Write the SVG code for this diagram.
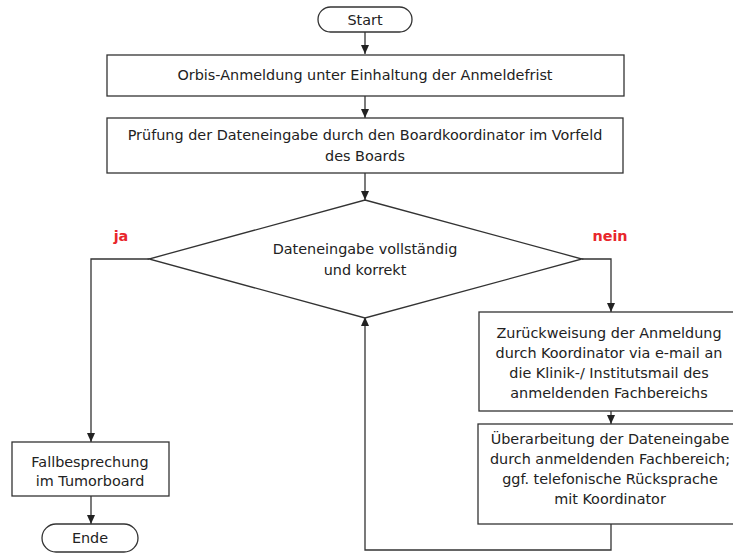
<svg xmlns="http://www.w3.org/2000/svg" width="733" height="554" viewBox="0 0 733 554">
<style>
.s{fill:#fff;stroke:#333;stroke-width:1.3}
.t{font-family:"DejaVu Sans",Verdana,sans-serif;font-size:14.4px;fill:#222;text-anchor:middle}
.r{font-family:"DejaVu Sans",Verdana,sans-serif;font-size:14.4px;font-weight:bold;fill:#e8262b;text-anchor:middle}
.c{fill:none;stroke:#333;stroke-width:1.3}
</style>
<defs>
<marker id="a" markerWidth="10" markerHeight="10" refX="9" refY="5" orient="auto" markerUnits="userSpaceOnUse">
<path d="M0,1 L9,5 L0,9 Z" fill="#222"/>
</marker>
</defs>
<g id="connectors">
<path class="c" d="M365,32 V54" marker-end="url(#a)"/>
<path class="c" d="M365,96 V118" marker-end="url(#a)"/>
<path class="c" d="M365,173 V200" marker-end="url(#a)"/>
<path class="c" d="M149,259 H91 V442" marker-end="url(#a)"/>
<path class="c" d="M582,259 H611 V312" marker-end="url(#a)"/>
<path class="c" d="M611,411 V424" marker-end="url(#a)"/>
<path class="c" d="M611,524 V550 H365 V317" marker-end="url(#a)"/>
<path class="c" d="M91,496 V524" marker-end="url(#a)"/>
<text class="r" x="121" y="241">ja</text>
<text class="r" x="610" y="241">nein</text>
</g>
<g id="start">
<rect class="s" x="318" y="7" width="94" height="25" rx="12.5"/>
<text class="t" x="365" y="25">Start</text>
</g>
<g id="anmeldung">
<rect class="s" x="107" y="55" width="517" height="41"/>
<text class="t" x="365" y="80">Orbis-Anmeldung unter Einhaltung der Anmeldefrist</text>
</g>
<g id="pruefung">
<rect class="s" x="107" y="118" width="516" height="55"/>
<text class="t" x="365" y="140">Prüfung der Dateneingabe durch den Boardkoordinator im Vorfeld</text>
<text class="t" x="365" y="161">des Boards</text>
</g>
<g id="entscheidung">
<path class="s" d="M365,200 L582,259 L365,318 L149,259 Z"/>
<text class="t" x="365" y="254">Dateneingabe vollständig</text>
<text class="t" x="365" y="275">und korrekt</text>
</g>
<g id="zurueckweisung">
<rect class="s" x="479" y="312" width="260" height="99"/>
<text class="t" x="609" y="338">Zurückweisung der Anmeldung</text>
<text class="t" x="609" y="358">durch Koordinator via e-mail an</text>
<text class="t" x="609" y="378">die Klinik-/ Institutsmail des</text>
<text class="t" x="609" y="398">anmeldenden Fachbereichs</text>
</g>
<g id="ueberarbeitung">
<rect class="s" x="478" y="424" width="261" height="100"/>
<text class="t" x="610" y="444">Überarbeitung der Dateneingabe</text>
<text class="t" x="610" y="464">durch anmeldenden Fachbereich;</text>
<text class="t" x="610" y="484">ggf. telefonische Rücksprache</text>
<text class="t" x="610" y="504">mit Koordinator</text>
</g>
<g id="fallbesprechung">
<rect class="s" x="12" y="442" width="157" height="54"/>
<text class="t" x="90" y="467">Fallbesprechung</text>
<text class="t" x="90" y="486">im Tumorboard</text>
</g>
<g id="ende">
<rect class="s" x="42" y="524" width="96" height="28" rx="14"/>
<text class="t" x="90" y="543">Ende</text>
</g>
</svg>
